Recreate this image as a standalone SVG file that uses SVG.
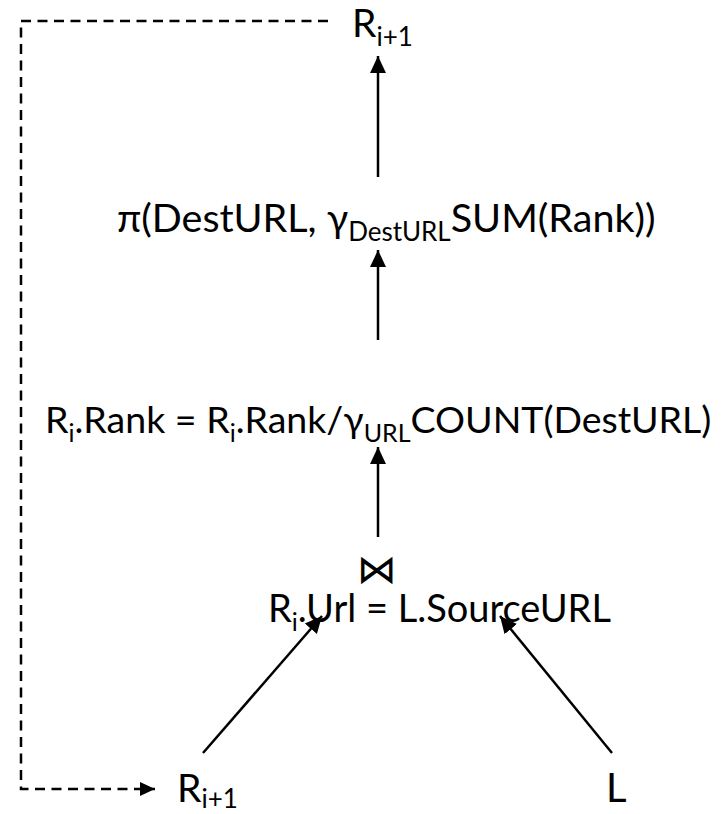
<svg xmlns="http://www.w3.org/2000/svg" width="728" height="814" viewBox="0 0 728 814">
  <style>
    .t { font-family: Lato, "Open Sans", sans-serif; font-size: 40px; fill: #000; }
    .sub { font-size: 26px; }
    .edge { stroke: #000; stroke-width: 2.5; fill: none; }
    .dash { stroke: #000; stroke-width: 2.5; fill: none; stroke-dasharray: 10 6.5; }
    .sym { font-family: "DejaVu Sans", sans-serif; font-size: 40px; fill: #000; }
  </style>
  <defs>
    <marker id="arrow" markerUnits="userSpaceOnUse" markerWidth="18" markerHeight="18" viewBox="0 0 18 18" refX="17" refY="9" orient="auto">
      <path d="M0,1 L17,9 L0,17 Z" fill="#000"/>
    </marker>
    <marker id="arrowSmall" markerUnits="userSpaceOnUse" markerWidth="16" markerHeight="16" viewBox="0 0 16 16" refX="15" refY="8" orient="auto">
      <path d="M0,1 L15,8 L0,15 Z" fill="#000"/>
    </marker>
  </defs>

  <g id="connectors">
    <path class="edge" d="M378,177 L378,56" marker-end="url(#arrow)"/>
    <path class="edge" d="M378,340 L378,250" marker-end="url(#arrow)"/>
    <path class="edge" d="M378,537 L378,447" marker-end="url(#arrow)"/>
    <path class="edge" d="M203,753 L322,616" marker-end="url(#arrow)"/>
    <path class="edge" d="M612,753 L500,616" marker-end="url(#arrow)"/>
    <path class="dash" d="M328,21 H21 V789 H155" marker-end="url(#arrowSmall)"/>
  </g>

  <g id="result-top">
    <text class="t" x="352" y="37" style="font-size:39px">R<tspan class="sub" dy="9">i+1</tspan></text>
  </g>

  <g id="projection">
    <text class="t" x="117" y="232" style="font-size:39.5px">π(DestURL, γ<tspan class="sub" dy="9">DestURL</tspan><tspan dy="-9">SUM(Rank))</tspan></text>
  </g>

  <g id="rank-update">
    <text class="t" x="45" y="433" style="font-size:37.5px">R<tspan class="sub" dy="9" style="font-size:25px">i</tspan><tspan dy="-9">.Rank = R</tspan><tspan class="sub" dy="9" style="font-size:25px">i</tspan><tspan dy="-9">.Rank/γ</tspan><tspan class="sub" dy="9" style="font-size:25px">URL</tspan><tspan dy="-9">COUNT(DestURL)</tspan></text>
  </g>

  <g id="join">
    <text class="sym" x="377" y="583" text-anchor="middle">⋈</text>
    <text class="t" x="268" y="622" style="font-size:38px">R<tspan class="sub" dy="9" style="font-size:25px">i</tspan><tspan dy="-9">.Url = L.SourceURL</tspan></text>
  </g>

  <g id="input-r">
    <text class="t" x="177" y="802" style="font-size:39px">R<tspan class="sub" dy="6">i+1</tspan></text>
  </g>

  <g id="input-l">
    <text class="t" x="606" y="802">L</text>
  </g>
</svg>
